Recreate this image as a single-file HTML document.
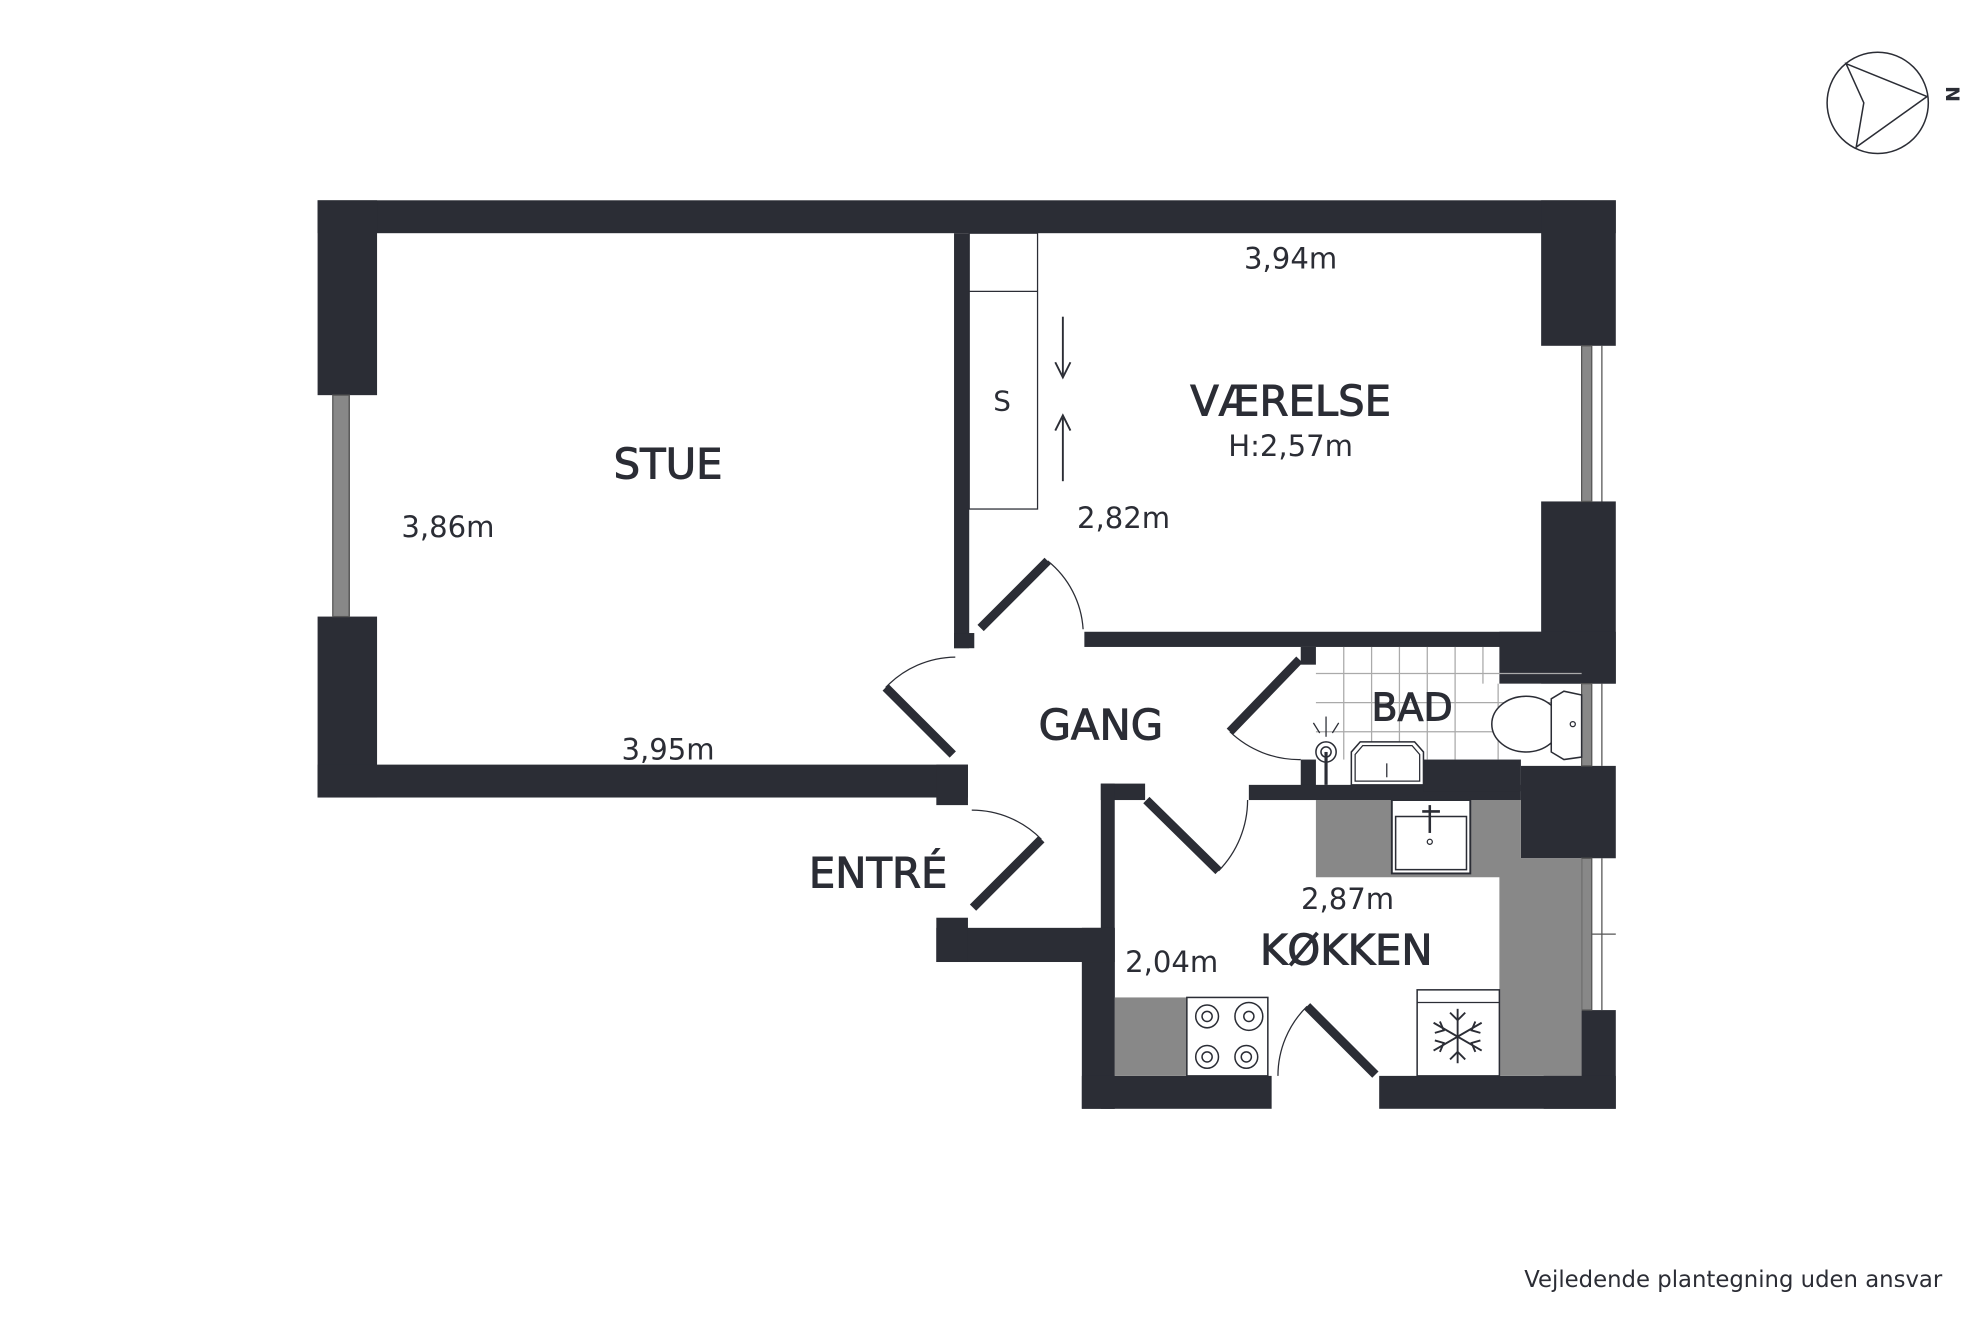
<!DOCTYPE html>
<html><head><meta charset="utf-8"><style>
html,body{margin:0;padding:0;background:#fff}
svg{display:block}
text{font-family:"DejaVu Sans","Liberation Sans",sans-serif;fill:#2b2d35}
</style></head><body>
<svg width="1984" height="1323" viewBox="0 0 1568 1045" xmlns="http://www.w3.org/2000/svg">
<rect width="1568" height="1045" fill="#fff"/>
<g fill="#2b2d35">
<rect x="251" y="158" width="1026" height="26"/>
<rect x="251" y="158" width="47" height="154"/>
<rect x="251" y="487" width="47" height="143"/>
<rect x="251" y="604" width="514" height="26"/>
<rect x="740" y="604" width="25" height="32"/>
<rect x="754" y="184" width="12" height="328"/>
<rect x="754" y="500" width="16" height="12"/>
<rect x="857" y="499" width="361" height="12"/>
<rect x="1218" y="158" width="59" height="115"/>
<rect x="1218" y="396" width="59" height="144"/>
<rect x="1185" y="499" width="92" height="41"/>
<rect x="1202" y="605" width="75" height="73"/>
<rect x="1220" y="798" width="57" height="78"/>
<rect x="1028" y="511" width="12" height="14"/>
<rect x="1028" y="600" width="12" height="22"/>
<rect x="987" y="620" width="215" height="12"/>
<rect x="1125" y="600" width="77" height="25"/>
<rect x="870" y="619" width="35" height="13"/>
<rect x="870" y="619" width="11" height="257"/>
<rect x="855" y="733" width="26" height="143"/>
<rect x="740" y="733" width="141" height="27"/>
<rect x="740" y="725" width="25" height="35"/>
<rect x="855" y="850" width="150" height="26"/>
<rect x="1090" y="850" width="187" height="26"/>
</g>
<g fill="none" stroke="#555" stroke-width="1">
<rect x="263" y="312" width="13" height="175" fill="#888"/>
<line x1="276" y1="312" x2="276" y2="487"/>
<rect x="1250" y="273" width="8" height="123" fill="#888"/>
<line x1="1266" y1="273" x2="1266" y2="396"/>
<rect x="1250" y="540" width="8" height="65" fill="#888"/>
<line x1="1266" y1="540" x2="1266" y2="605"/>
<rect x="1250" y="678" width="8" height="120" fill="#888"/>
<line x1="1266" y1="678" x2="1266" y2="798"/>
<line x1="1258" y1="738" x2="1277" y2="738"/>
</g>
<path d="M1040 632 H1202 V678 H1250 V850 H1185 V693 H1040 Z" fill="#888"/>
<rect x="881" y="788" width="119" height="62" fill="#888"/>
<rect x="1100" y="632" width="62" height="58" fill="#fff" stroke="#2b2d35" stroke-width="1.5"/>
<rect x="1103" y="645" width="56" height="42" fill="none" stroke="#2b2d35" stroke-width="1.2"/>
<line x1="1130" y1="636" x2="1130" y2="658" stroke="#2b2d35" stroke-width="2"/>
<line x1="1124" y1="641" x2="1138" y2="641" stroke="#2b2d35" stroke-width="2"/>
<circle cx="1130" cy="665" r="2" fill="none" stroke="#2b2d35"/>
<rect x="1120" y="782" width="65" height="68" fill="#fff" stroke="#2b2d35" stroke-width="1.2"/>
<line x1="1120" y1="792" x2="1185" y2="792" stroke="#2b2d35" stroke-width="1"/>
<g stroke="#2b2d35" stroke-width="1.5" fill="none">
<line x1="1152" y1="797" x2="1152" y2="840"/>
<line x1="1133" y1="808" x2="1171" y2="830"/>
<line x1="1133" y1="830" x2="1171" y2="808"/>
<path d="M1146 800 L1152 806 L1158 800 M1146 837 L1152 831 L1158 837 M1134 816 L1141 814 L1138 807 M1170 816 L1163 814 L1166 807 M1134 822 L1141 824 L1138 831 M1170 822 L1163 824 L1166 831"/>
</g>
<rect x="938" y="788" width="64" height="62" fill="#fff" stroke="#2b2d35" stroke-width="1.2"/>
<g stroke="#2b2d35" stroke-width="1.2" fill="none">
<circle cx="954" cy="803" r="9"/><circle cx="954" cy="803" r="4"/>
<circle cx="987" cy="803" r="11"/><circle cx="987" cy="803" r="4"/>
<circle cx="954" cy="835" r="9"/><circle cx="954" cy="835" r="4"/>
<circle cx="985" cy="835" r="9"/><circle cx="985" cy="835" r="4"/>
</g>
<g stroke="#aaa" stroke-width="1">
<line x1="1062" y1="511" x2="1062" y2="600"/><line x1="1084" y1="511" x2="1084" y2="600"/>
<line x1="1106" y1="511" x2="1106" y2="600"/><line x1="1128" y1="511" x2="1128" y2="600"/>
<line x1="1150" y1="511" x2="1150" y2="600"/><line x1="1172" y1="511" x2="1172" y2="540"/>
<line x1="1184" y1="540" x2="1184" y2="600"/>
<line x1="1040" y1="532" x2="1250" y2="532"/><line x1="1040" y1="555" x2="1250" y2="555"/>
<line x1="1040" y1="578" x2="1250" y2="578"/>
</g>
<path d="M1068 620 V594 L1075 586 H1118 L1125 594 V620 Z" fill="#fff" stroke="#2b2d35" stroke-width="1.2"/>
<path d="M1071 617 V596 L1077 589 H1116 L1122 596 V617 Z" fill="none" stroke="#2b2d35" stroke-width="1"/>
<line x1="1096" y1="603" x2="1096" y2="614" stroke="#2b2d35"/>
<circle cx="1048" cy="594" r="8" fill="#fff" stroke="#2b2d35" stroke-width="1.2"/>
<circle cx="1048" cy="594" r="4" fill="none" stroke="#2b2d35" stroke-width="1.2"/>
<line x1="1048" y1="594" x2="1048" y2="620" stroke="#2b2d35" stroke-width="2.5"/>
<g stroke="#2b2d35" stroke-width="1"><line x1="1048" y1="566" x2="1048" y2="582"/><line x1="1038" y1="571" x2="1043" y2="579"/><line x1="1058" y1="571" x2="1053" y2="579"/></g>
<ellipse cx="1206" cy="572" rx="27" ry="22" fill="#fff" stroke="#2b2d35" stroke-width="1.2"/>
<path d="M1226 552 L1236 546 L1250 549 V598 L1236 600 L1226 594 Z" fill="#fff" stroke="#2b2d35" stroke-width="1.2"/>
<circle cx="1243" cy="572" r="2" fill="none" stroke="#2b2d35"/>
<rect x="766" y="184" width="54" height="218" fill="none" stroke="#2b2d35" stroke-width="1"/>
<line x1="766" y1="230" x2="820" y2="230" stroke="#2b2d35" stroke-width="1"/>
<g stroke="#2b2d35" stroke-width="1.5" fill="#2b2d35">
<line x1="840" y1="250" x2="840" y2="296"/><path d="M834 286 L840 298 L846 286" fill="none"/>
<line x1="840" y1="380" x2="840" y2="330"/><path d="M834 340 L840 328 L846 340" fill="none"/>
</g>
<g stroke="#2b2d35" stroke-width="7" stroke-linecap="butt">
<line x1="753" y1="596" x2="700" y2="543"/>
<line x1="775" y1="496" x2="828" y2="443"/>
<line x1="1027" y1="521" x2="972" y2="578"/>
<line x1="906" y1="632" x2="963" y2="688"/>
<line x1="769" y1="717" x2="823" y2="663"/>
<line x1="1087" y1="849" x2="1033" y2="795"/>
</g>
<g stroke="#2b2d35" stroke-width="1" fill="none">
<path d="M700 543 A77 77 0 0 1 755 519"/>
<path d="M828 443 A75 75 0 0 1 856 497"/>
<path d="M972 578 A79 79 0 0 0 1028 600"/>
<path d="M963 688 A80 80 0 0 0 986 632"/>
<path d="M823 663 A77 77 0 0 0 768 640"/>
<path d="M1033 795 A77 77 0 0 0 1010 850"/>
</g>
<g font-size="33" text-anchor="middle" stroke="#2b2d35" stroke-width="0.8">
<text x="528" y="378">STUE</text>
<text x="1020" y="328">VÆRELSE</text>
<text x="870" y="584">GANG</text>
<text x="694" y="701">ENTRÉ</text>
<text x="1064" y="762">KØKKEN</text>
<text x="1116" y="569" font-size="30">BAD</text>
</g>
<g font-size="23" text-anchor="middle">
<text x="1020" y="212">3,94m</text>
<text x="1020" y="360">H:2,57m</text>
<text x="888" y="417">2,82m</text>
<text x="354" y="424">3,86m</text>
<text x="528" y="600">3,95m</text>
<text x="1065" y="718">2,87m</text>
<text x="926" y="768">2,04m</text>
<text x="792" y="324" font-size="22">S</text>
</g>
<text x="1535" y="1017" font-size="18" text-anchor="end">Vejledende plantegning uden ansvar</text>
<circle cx="1484" cy="81" r="40" fill="none" stroke="#2b2d35" stroke-width="1.2"/>
<path d="M1459 50 L1523 76 L1467 116 L1473 81 Z" fill="none" stroke="#2b2d35" stroke-width="1.2"/>
<text x="1538" y="74" font-size="15" font-weight="bold" text-anchor="middle" transform="rotate(90 1538 74)">N</text>
</svg>
</body></html>
